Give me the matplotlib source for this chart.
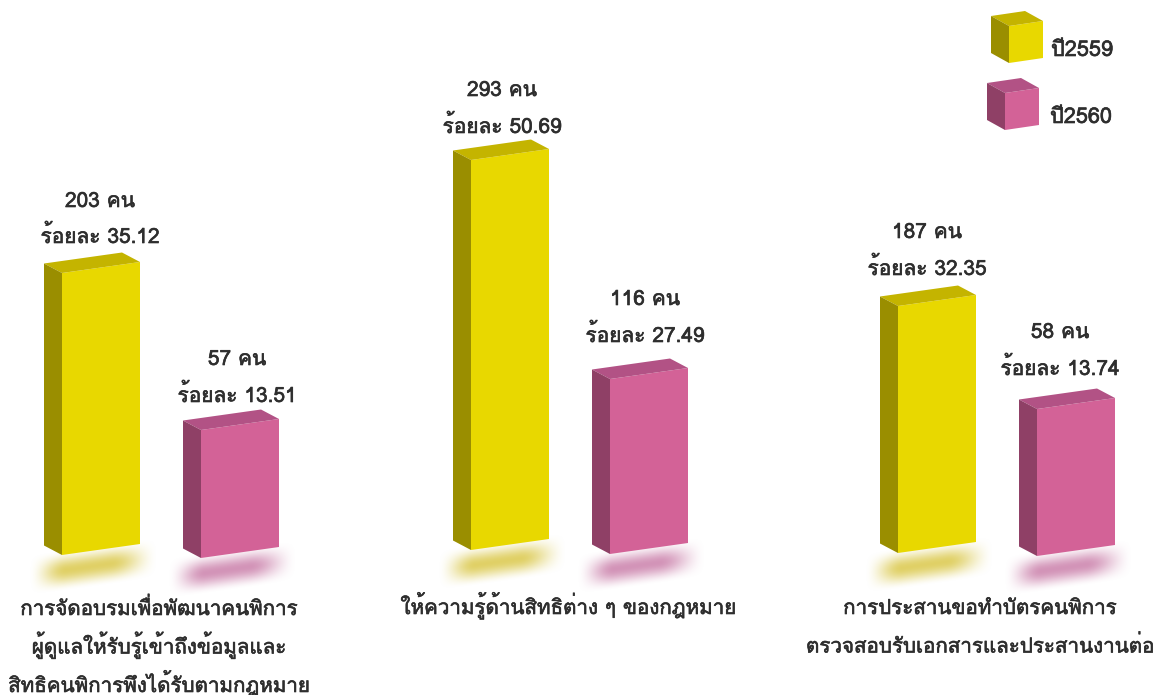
import numpy as np
import matplotlib
matplotlib.use('Agg')
import matplotlib.pyplot as plt
import matplotlib.patheffects as pe
from matplotlib.patches import Polygon

plt.rcParams['font.family'] = ['Loma', 'DejaVu Sans']

# ---- data ----
categories = ['การจัดอบรมเพื่อพัฒนาคนพิการ\nผู้ดูแลให้รับรู้เข้าถึงข้อมูลและ\nสิทธิคนพิการพึงได้รับตามกฎหมาย',
              'ให้ความรู้ด้านสิทธิต่าง ๆ ของกฎหมาย',
              'การประสานขอทำบัตรคนพิการ\nตรวจสอบรับเอกสารและประสานงานต่อ']
series_names = ['ปี2559', 'ปี2560']
counts_2559 = [203, 293, 187]
counts_2560 = [57, 116, 58]
percent_2559 = ['35.12', '50.69', '32.35']
percent_2560 = ['13.51', '27.49', '13.74']
# drawn heights of the bars as they appear in the picture
drawn_2559 = [282, 390, 247]
drawn_2560 = [128, 175, 147]

# ---- layout ----
front_x = [[62, 471, 898], [201, 610, 1037]]
base_y = [[555, 550, 553], [558, 554, 556]]
label_x = [[100, 502, 927], [237, 645, 1060]]
count_base = [[207, 96, 238], [365, 305, 338]]
pct_base = [[243, 133, 275], [402, 342, 375]]
cat_x = [159, 568, 980]
cat_base = [615, 614, 614]
BAR_W, DX, DY, SLOPE = 78, 18, 9.5, 11
palette = [dict(front='#E8D800', top='#C4B400', side='#9A8E00', shadow=(0.84, 0.76, 0.20)),
           dict(front='#D36297', top='#B25285', side='#8F4066', shadow=(0.77, 0.44, 0.63))]
TEXT = '#2E2E2E'
STROKE = [pe.withStroke(linewidth=0.45, foreground=TEXT)]

fig = plt.figure(figsize=(11.55, 6.95), dpi=100)
ax = fig.add_axes([0, 0, 1, 1])
ax.axis('off')


def label(x, y, s, ha='center', fs=15):
    ax.text(x, y, s, ha=ha, va='baseline', fontsize=fs, color=TEXT, path_effects=STROKE, zorder=5)


def block(x, y, w, h, col, dx=DX, dy=DY, slope=SLOPE, z=3):
    """x,y: front-left bottom corner; h: drawn height."""
    fl_b, fr_b = (x, y), (x + w, y - slope)
    fl_t, fr_t = (x, y - h), (x + w, y - h - slope)
    bl_t, bl_b = (x - dx, y - h - dy), (x - dx, y - dy)
    br_t = (x + w - dx, y - h - slope - dy)
    ax.add_patch(Polygon([fl_b, fr_b, fr_t, fl_t], fc=col['front'], ec='none', zorder=z))
    ax.add_patch(Polygon([fl_t, fr_t, br_t, bl_t], fc=col['top'], ec='none', zorder=z))
    ax.add_patch(Polygon([bl_b, fl_b, fl_t, bl_t], fc=col['side'], ec='none', zorder=z))


def soft(t, a, b):
    s = np.clip((t - a) / (b - a), 0, 1)
    return s * s * (3 - 2 * s)


def shadow(x, y, col):
    x0, x1, y0, y1 = x - 40, x + BAR_W + 35, y - 22, y + 40
    xx, yy = np.meshgrid(np.arange(x0, x1), np.arange(y0, y1))
    v = yy - y + (xx - x) * 11 / 78
    al = (soft(xx, x - 34, x + 4) * (1 - soft(xx, x + 48, x + 96))
          * soft(v, -6, 15) * (1 - soft(v, 15, 36)))
    img = np.zeros(xx.shape + (4,))
    img[..., :3] = col
    img[..., 3] = 0.75 * al
    ax.imshow(img, extent=(x0, x1, y1, y0), aspect='auto', zorder=1, interpolation='bilinear')


drawn = [drawn_2559, drawn_2560]
counts = [counts_2559, counts_2560]
pct = [percent_2559, percent_2560]
for s in range(2):
    for i in range(3):
        x, y, h = front_x[s][i], base_y[s][i], drawn[s][i]
        shadow(x, y, palette[s]['shadow'])
        block(x, y, BAR_W, h, palette[s])
        label(label_x[s][i], count_base[s][i], f'{counts[s][i]} คน')
        label(label_x[s][i], pct_base[s][i], f'ร้อยละ {pct[s][i]}')

for c, x, y in zip(categories, cat_x, cat_base):
    for k, line in enumerate(c.split('\n')):
        label(x, y + 38.5 * k, line, fs=14.8)

# legend cubes
block(1009, 63, 34, 37, palette[0], dx=18, dy=10, slope=5)
block(1005, 130, 34, 37, palette[1], dx=18, dy=10, slope=5)
label(1051, 56, series_names[0], ha='left', fs=15.6)
label(1050, 123, series_names[1], ha='left', fs=15.6)

ax.set_xlim(0, 1155)
ax.set_ylim(695, 0)
fig.savefig('out.png', dpi=100)
